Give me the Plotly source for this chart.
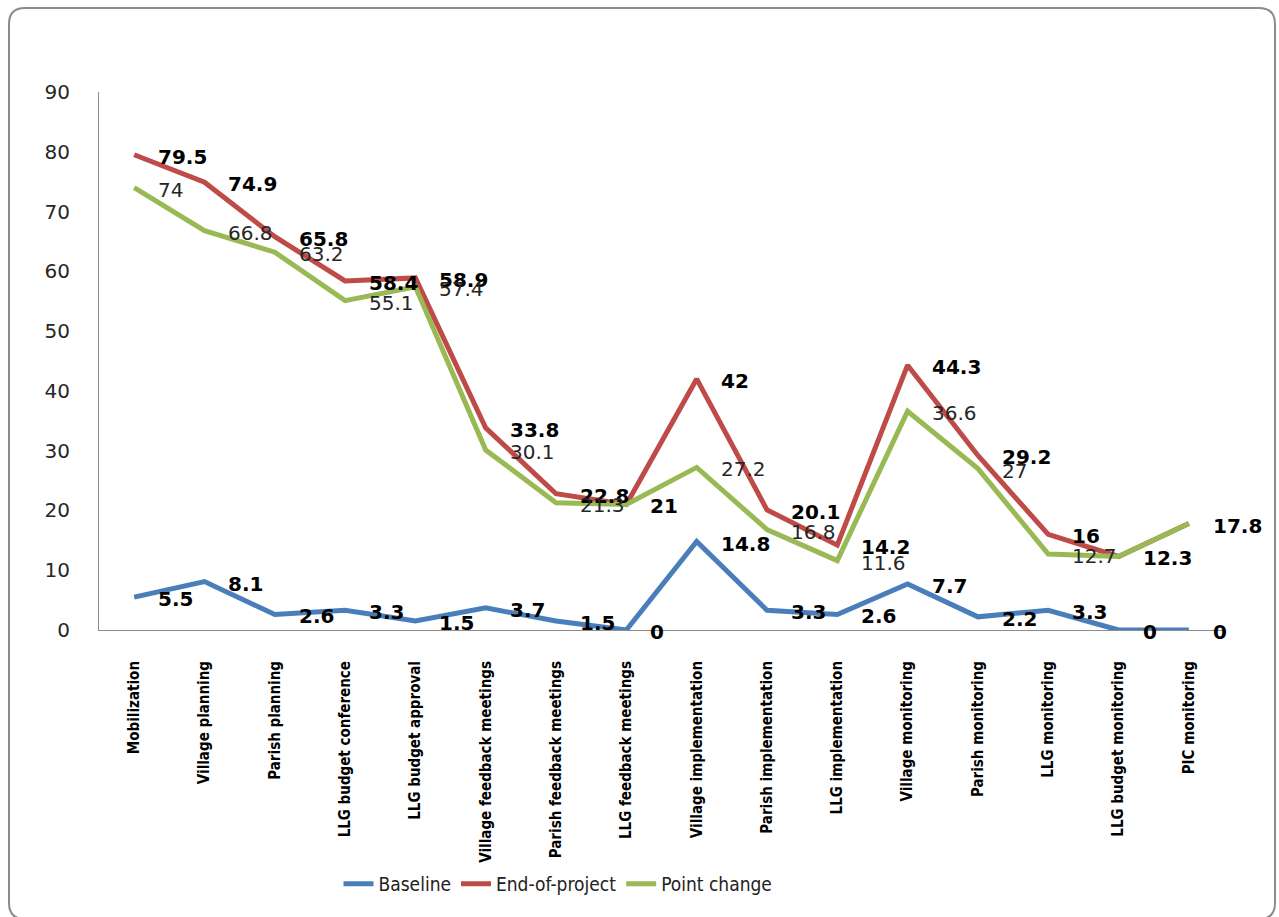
import plotly.graph_objects as go

categories = ["Mobilization", "Village planning", "Parish planning", "LLG budget conference",
              "LLG budget approval", "Village feedback meetings", "Parish feedback meetings",
              "LLG feedback meetings", "Village implementation", "Parish implementation",
              "LLG implementation", "Village monitoring", "Parish monitoring", "LLG monitoring",
              "LLG budget monitoring", "PIC monitoring"]
baseline = [5.5, 8.1, 2.6, 3.3, 1.5, 3.7, 1.5, 0, 14.8, 3.3, 2.6, 7.7, 2.2, 3.3, 0, 0]
end_of_project = [79.5, 74.9, 65.8, 58.4, 58.9, 33.8, 22.8, 21, 42, 20.1, 14.2, 44.3, 29.2, 16, 12.3, 17.8]
point_change = [74, 66.8, 63.2, 55.1, 57.4, 30.1, 21.3, 21, 27.2, 16.8, 11.6, 36.6, 27, 12.7, 12.3, 17.8]

series = [
    ("Baseline", baseline, "#4A7EBB", True),
    ("End-of-project", end_of_project, "#BE4B48", True),
    ("Point change", point_change, "#98B954", False),
]

COND = "DejaVu Sans Condensed, Liberation Sans Narrow, DejaVu Sans"

fig = go.Figure()
for name, vals, color, bold in series:
    fig.add_trace(go.Scatter(x=categories, y=vals, name=name, mode="lines",
                             line=dict(color=color, width=5), hoverinfo="x+y"))

annotations = []
for name, vals, color, bold in series:
    for i, (c, v) in enumerate(zip(categories, vals)):
        # point-change labels that coincide exactly with end-of-project labels are hidden
        if not bold and v == end_of_project[i]:
            continue
        txt = f"<b>{v:g}</b>" if bold else f"{v:g}"
        annotations.append(dict(x=c, y=v, xref="x", yref="y", text=txt, showarrow=False,
                                xanchor="left", yanchor="middle", xshift=22, yshift=-2,
                                font=dict(family="DejaVu Sans", size=20,
                                          color="#000000" if bold else "#262626")))

# rounded frame in paper coordinates
L, R, T, B = 99, 1224, 92, 630
pw, ph = R - L, B - T
def px(x):
    return (x - L) / pw
def py(y):
    return (B - y) / ph
x0, x1, y0, y1 = px(9), px(1275), py(919), py(8)
rx, ry = 16 / pw, 16 / ph
path = (f"M {x0+rx},{y1} L {x1-rx},{y1} Q {x1},{y1} {x1},{y1-ry} L {x1},{y0+ry} "
        f"Q {x1},{y0} {x1-rx},{y0} L {x0+rx},{y0} Q {x0},{y0} {x0},{y0+ry} "
        f"L {x0},{y1-ry} Q {x0},{y1} {x0+rx},{y1} Z")

fig.update_layout(
    width=1279, height=917,
    margin=dict(l=L, r=1279 - R, t=T, b=917 - B),
    paper_bgcolor="white", plot_bgcolor="white",
    showlegend=True,
    legend=dict(orientation="h", x=px(558), xanchor="center", y=py(884), yanchor="middle",
                font=dict(family=COND, size=19, color="#222222"),
                itemwidth=30, tracegroupgap=0, bgcolor="rgba(0,0,0,0)"),
    annotations=annotations,
    shapes=[dict(type="path", path=path, xref="paper", yref="paper",
                 line=dict(color="#8c8c8c", width=2), fillcolor="rgba(0,0,0,0)", layer="below")],
    xaxis=dict(type="category", showgrid=False, showline=True, linecolor="#8c8c8c", linewidth=1,
               tickangle=-90, ticks="", ticklabelstandoff=24,
               tickfont=dict(family=COND, size=15, color="#000000", weight="bold"),
               range=[-0.5, len(categories) - 0.5], zeroline=False),
    yaxis=dict(range=[0, 90], dtick=10, showgrid=False, showline=True, linecolor="#8c8c8c",
               linewidth=1, ticks="", ticklabelstandoff=24, zeroline=False,
               tickfont=dict(family="DejaVu Sans", size=20, color="#262626")),
)

fig.write_html("out.html")
